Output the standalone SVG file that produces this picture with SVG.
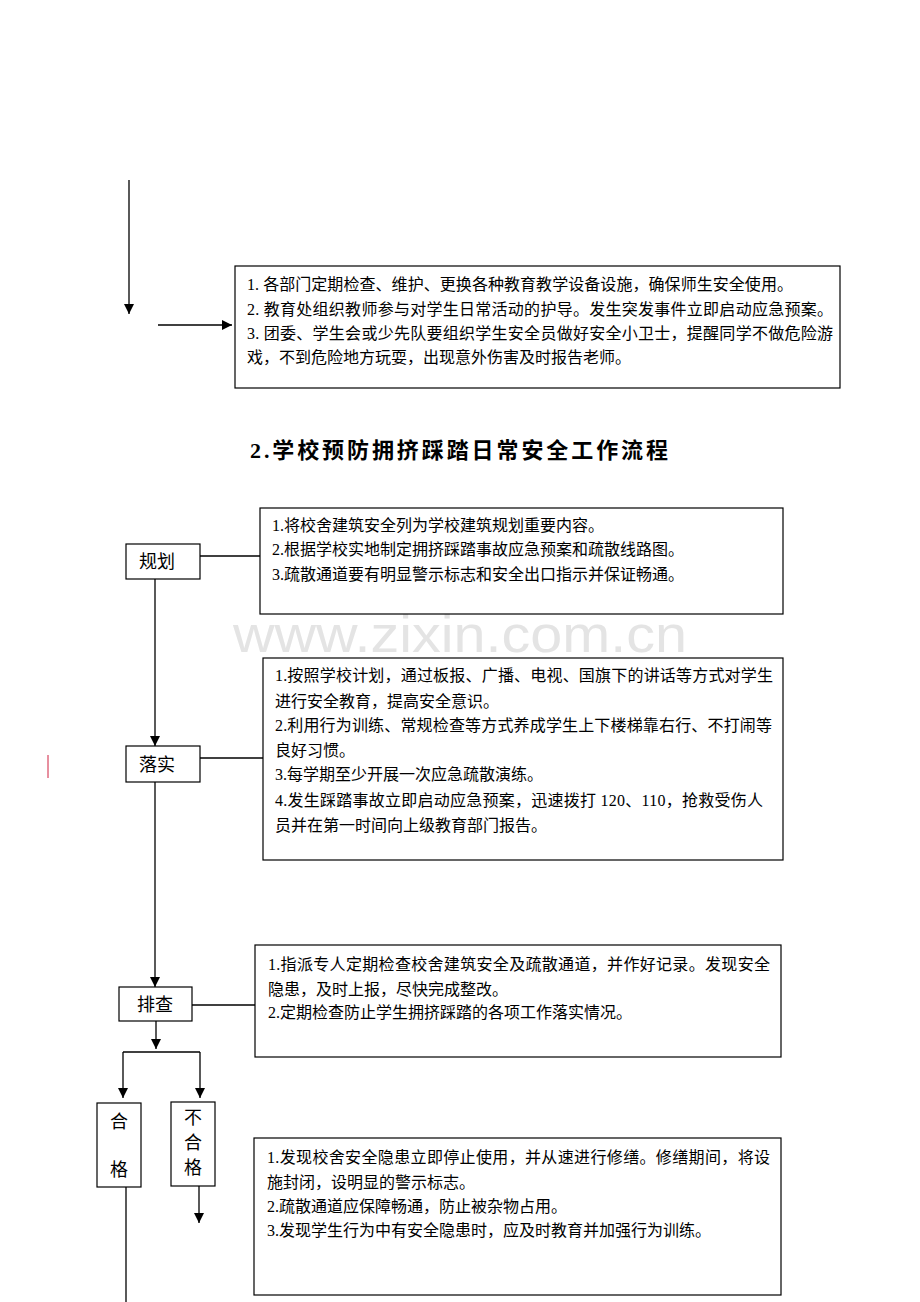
<svg xmlns="http://www.w3.org/2000/svg" width="920" height="1302" viewBox="0 0 920 1302">
<defs>
<marker id="arr" viewBox="0 0 10 10" refX="10" refY="5" markerWidth="10" markerHeight="10" markerUnits="userSpaceOnUse" orient="auto">
<path d="M0,0 L10,5 L0,10 Z" fill="#000"/>
</marker>
<style>
.box{fill:#fff;stroke:#000;stroke-width:1.2}
.ln{fill:none;stroke:#000;stroke-width:1.3}
.t{font-family:"Liberation Serif","Noto Sans CJK SC",serif;font-size:16px;fill:#000}
.lbl{font-family:"Liberation Serif","Noto Sans CJK SC",serif;font-size:18px;fill:#000;text-anchor:middle}
.title{font-family:"Liberation Serif","Noto Sans CJK SC",serif;font-size:22px;font-weight:bold;fill:#000}
.wm{font-family:"Liberation Sans","DejaVu Sans",sans-serif;font-size:52px;fill:#e4e4e4}
</style>
</defs>
<rect width="920" height="1302" fill="#fff"/>
<text class="wm" x="233" y="652" textLength="454" lengthAdjust="spacingAndGlyphs">www.zixin.com.cn</text>

<g id="connectors">
<line class="ln" x1="129" y1="180" x2="129" y2="314" marker-end="url(#arr)"/>
<line class="ln" x1="158" y1="325" x2="232" y2="325" marker-end="url(#arr)"/>
<line class="ln" x1="200" y1="556" x2="260" y2="556"/>
<line class="ln" x1="155" y1="579" x2="155" y2="746" marker-end="url(#arr)"/>
<line class="ln" x1="200" y1="758" x2="263" y2="758"/>
<line class="ln" x1="155" y1="782" x2="155" y2="987" marker-end="url(#arr)"/>
<line class="ln" x1="192" y1="1005" x2="255" y2="1005"/>
<line class="ln" x1="156" y1="1021" x2="156" y2="1049" marker-end="url(#arr)"/>
<line class="ln" x1="123" y1="1052" x2="200" y2="1052"/>
<line class="ln" x1="123" y1="1052" x2="123" y2="1098" marker-end="url(#arr)"/>
<line class="ln" x1="200" y1="1052" x2="200" y2="1098" marker-end="url(#arr)"/>
<line class="ln" x1="199" y1="1186" x2="199" y2="1223" marker-end="url(#arr)"/>
<line class="ln" x1="126" y1="1187" x2="126" y2="1302"/>
</g>
<line x1="48" y1="755" x2="48" y2="778" stroke="#d02040" stroke-width="1"/>

<g id="box1">
<rect class="box" x="235" y="266" width="605" height="122"/>
<text class="t" x="247" y="290" textLength="546" lengthAdjust="spacing">1. 各部门定期检查、维护、更换各种教育教学设备设施，确保师生安全使用。</text>
<text class="t" x="247" y="315" textLength="586" lengthAdjust="spacing">2. 教育处组织教师参与对学生日常活动的护导。发生突发事件立即启动应急预案。</text>
<text class="t" x="247" y="339" textLength="586" lengthAdjust="spacing">3. 团委、学生会或少先队要组织学生安全员做好安全小卫士，提醒同学不做危险游</text>
<text class="t" x="247" y="363">戏，不到危险地方玩耍，出现意外伤害及时报告老师。</text>
</g>

<g id="title">
<text class="title" x="250" y="458" textLength="418" lengthAdjust="spacing">2.学校预防拥挤踩踏日常安全工作流程</text>
</g>

<g id="n-guihua">
<rect class="box" x="126" y="544" width="74" height="35"/>
<text class="lbl" x="157" y="568">规划</text>
</g>
<g id="box2">
<rect class="box" x="260" y="508" width="523" height="106"/>
<text class="t" x="272" y="531">1.将校舍建筑安全列为学校建筑规划重要内容。</text>
<text class="t" x="272" y="555">2.根据学校实地制定拥挤踩踏事故应急预案和疏散线路图。</text>
<text class="t" x="272" y="580">3.疏散通道要有明显警示标志和安全出口指示并保证畅通。</text>
</g>

<g id="n-luoshi">
<rect class="box" x="126" y="746" width="74" height="36"/>
<text class="lbl" x="157" y="771">落实</text>
</g>
<g id="box3">
<rect class="box" x="263" y="658" width="520" height="202"/>
<text class="t" x="275" y="681" textLength="498" lengthAdjust="spacing">1.按照学校计划，通过板报、广播、电视、国旗下的讲话等方式对学生</text>
<text class="t" x="275" y="707">进行安全教育，提高安全意识。</text>
<text class="t" x="275" y="731" textLength="497" lengthAdjust="spacing">2.利用行为训练、常规检查等方式养成学生上下楼梯靠右行、不打闹等</text>
<text class="t" x="275" y="756">良好习惯。</text>
<text class="t" x="275" y="780">3.每学期至少开展一次应急疏散演练。</text>
<text class="t" x="275" y="806" textLength="488" lengthAdjust="spacing">4.发生踩踏事故立即启动应急预案，迅速拨打 120、110，抢救受伤人</text>
<text class="t" x="275" y="831">员并在第一时间向上级教育部门报告。</text>
</g>

<g id="n-paicha">
<rect class="box" x="119" y="987" width="73" height="34"/>
<text class="lbl" x="155" y="1011">排查</text>
</g>
<g id="box4">
<rect class="box" x="255" y="945" width="526" height="112"/>
<text class="t" x="268" y="970" textLength="502" lengthAdjust="spacing">1.指派专人定期检查校舍建筑安全及疏散通道，并作好记录。发现安全</text>
<text class="t" x="268" y="995">隐患，及时上报，尽快完成整改。</text>
<text class="t" x="268" y="1018">2.定期检查防止学生拥挤踩踏的各项工作落实情况。</text>
</g>

<g id="n-hege">
<rect class="box" x="97" y="1103" width="44" height="84"/>
<text class="lbl" x="119" y="1128">合</text>
<text class="lbl" x="119" y="1176">格</text>
</g>
<g id="n-buhege">
<rect class="box" x="171" y="1102" width="44" height="84"/>
<text class="lbl" x="193" y="1124">不</text>
<text class="lbl" x="193" y="1149">合</text>
<text class="lbl" x="193" y="1174">格</text>
</g>

<g id="box5">
<rect class="box" x="254" y="1138" width="527" height="157"/>
<text class="t" x="267" y="1163" textLength="503" lengthAdjust="spacing">1.发现校舍安全隐患立即停止使用，并从速进行修缮。修缮期间，将设</text>
<text class="t" x="267" y="1188">施封闭，设明显的警示标志。</text>
<text class="t" x="267" y="1212">2.疏散通道应保障畅通，防止被杂物占用。</text>
<text class="t" x="267" y="1236">3.发现学生行为中有安全隐患时，应及时教育并加强行为训练。</text>
</g>
</svg>
